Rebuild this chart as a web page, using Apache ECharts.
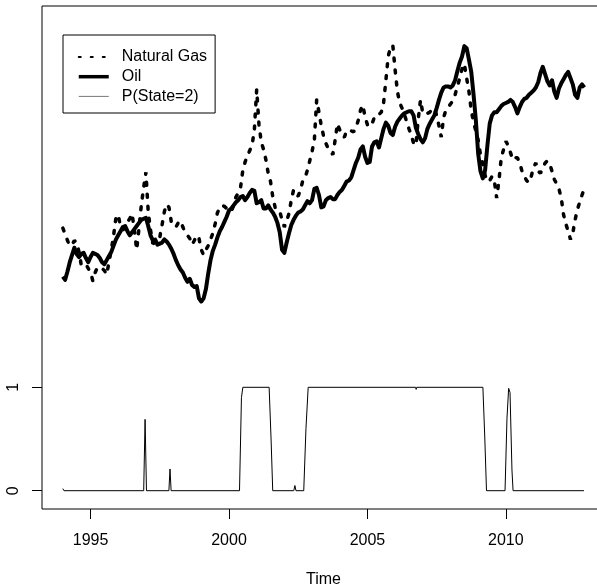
<!DOCTYPE html>
<html>
<head>
<meta charset="utf-8">
<script src="https://cdn.jsdelivr.net/npm/echarts@6/dist/echarts.min.js"></script>
<style>
  html, body { margin: 0; padding: 0; background: #fff; }
  #chart { width: 597px; height: 586px; }
</style>
</head>
<body>
<div id="chart"></div>
<script>
// monthly series, Jan 1994 .. Nov 2012 (plotted on the panel's own scale)
const startYear = 1994
const gas = [
  2.54, 2.48, 2.42, 2.37, 2.38, 2.42, 2.40, 2.31, 2.18, 2.19, 2.19, 2.15,
  2.11, 2.03, 2.11, 2.16, 2.16, 2.15, 2.13, 2.09, 2.21, 2.33, 2.47, 2.64,
  2.67, 2.55, 2.52, 2.55, 2.60, 2.63, 2.68, 2.52, 2.33, 2.54, 2.76, 2.93,
  3.08, 2.70, 2.52, 2.39, 2.40, 2.43, 2.45, 2.57, 2.70, 2.77, 2.74, 2.60,
  2.56, 2.55, 2.59, 2.61, 2.55, 2.50, 2.47, 2.44, 2.38, 2.42, 2.47, 2.44,
  2.33, 2.28, 2.33, 2.37, 2.43, 2.49, 2.58, 2.69, 2.73, 2.76, 2.75, 2.73,
  2.72, 2.70, 2.76, 2.84, 2.88, 2.93, 3.10, 3.18, 3.24, 3.29, 3.34, 3.49,
  3.88, 3.54, 3.37, 3.30, 3.20, 3.07, 2.99, 2.84, 2.74, 2.73, 2.70, 2.62,
  2.55, 2.61, 2.68, 2.81, 2.91, 2.86, 2.85, 2.91, 3.00, 3.03, 3.10, 3.19,
  3.28, 3.39, 3.78, 3.66, 3.53, 3.43, 3.36, 3.31, 3.28, 3.25, 3.39, 3.55,
  3.49, 3.43, 3.42, 3.48, 3.49, 3.48, 3.47, 3.51, 3.58, 3.68, 3.73, 3.61,
  3.54, 3.52, 3.55, 3.61, 3.64, 3.64, 3.66, 3.75, 3.97, 4.20, 4.29, 4.31,
  4.07, 3.86, 3.75, 3.70, 3.64, 3.57, 3.50, 3.44, 3.36, 3.34, 3.59, 3.78,
  3.65, 3.64, 3.65, 3.66, 3.69, 3.70, 3.63, 3.53, 3.42, 3.61, 3.68, 3.71,
  3.74, 3.77, 3.83, 3.91, 3.99, 4.08, 4.13, 3.99, 3.86, 3.68, 3.56, 3.48,
  3.39, 3.25, 3.16, 3.05, 2.99, 3.00, 3.04, 3.00, 2.83, 3.00, 3.22, 3.30,
  3.38, 3.34, 3.27, 3.20, 3.22, 3.22, 3.17, 3.09, 3.04, 3.00, 2.98, 3.04,
  3.13, 3.17, 3.09, 3.07, 3.12, 3.17, 3.19, 3.16, 3.09, 3.01, 2.97, 2.92,
  2.83, 2.67, 2.58, 2.51, 2.43, 2.49, 2.62, 2.72, 2.79, 2.86, 2.92
]
const oil = [
  2.07, 2.04, 2.12, 2.21, 2.28, 2.35, 2.29, 2.26, 2.29, 2.30, 2.25, 2.21,
  2.26, 2.30, 2.29, 2.28, 2.25, 2.21, 2.19, 2.23, 2.27, 2.31, 2.37, 2.43,
  2.47, 2.51, 2.55, 2.56, 2.51, 2.47, 2.50, 2.53, 2.56, 2.59, 2.62, 2.63,
  2.64, 2.56, 2.47, 2.42, 2.43, 2.38, 2.39, 2.40, 2.43, 2.41, 2.38, 2.34,
  2.29, 2.23, 2.18, 2.14, 2.11, 2.06, 2.02, 2.05, 1.99, 1.97, 1.98, 1.86,
  1.83, 1.86, 1.95, 2.10, 2.23, 2.32, 2.38, 2.45, 2.51, 2.55, 2.60, 2.65,
  2.71, 2.73, 2.76, 2.79, 2.81, 2.84, 2.85, 2.81, 2.84, 2.88, 2.91, 2.90,
  2.78, 2.79, 2.81, 2.73, 2.73, 2.76, 2.72, 2.69, 2.65, 2.59, 2.50, 2.33,
  2.30, 2.40, 2.49, 2.57, 2.62, 2.66, 2.69, 2.70, 2.72, 2.76, 2.80, 2.78,
  2.81, 2.92, 2.93, 2.86, 2.74, 2.75, 2.81, 2.83, 2.84, 2.82, 2.82, 2.86,
  2.89, 2.91, 2.95, 2.99, 3.00, 3.03, 3.10, 3.17, 3.22, 3.30, 3.33, 3.23,
  3.17, 3.18, 3.33, 3.37, 3.38, 3.32, 3.41, 3.50, 3.56, 3.53, 3.46, 3.44,
  3.52, 3.57, 3.60, 3.63, 3.65, 3.66, 3.67, 3.67, 3.63, 3.51, 3.45, 3.40,
  3.37, 3.41, 3.50, 3.55, 3.59, 3.63, 3.70, 3.78, 3.85, 3.90, 3.91, 3.91,
  3.90, 3.92, 3.97, 4.06, 4.14, 4.20, 4.30, 4.28, 4.17, 4.05, 3.83, 3.58,
  3.26, 3.09, 3.02, 3.10, 3.34, 3.55, 3.63, 3.66, 3.66, 3.69, 3.72, 3.74,
  3.75, 3.76, 3.78, 3.76, 3.71, 3.65, 3.71, 3.76, 3.79, 3.80, 3.83, 3.85,
  3.87, 3.90, 3.95, 4.04, 4.10, 4.03, 3.96, 3.92, 3.97, 3.86, 3.80, 3.89,
  3.94, 3.98, 4.02, 4.05, 3.99, 3.93, 3.83, 3.80, 3.90, 3.93, 3.90
]
// filtered probability of state 2, read at its turning points
const stateTimes = [
  1994.0, 1994.04, 1996.92, 1996.97, 1997.02, 1997.83, 1997.87, 1997.91,
  2000.38, 2000.45, 2000.50, 2001.45, 2001.52, 2001.58, 2002.34, 2002.38,
  2002.42, 2002.70, 2002.78, 2002.86, 2006.74, 2006.76, 2006.78, 2009.17,
  2009.24, 2009.30, 2009.97, 2010.04, 2010.10, 2010.15, 2010.22, 2010.26,
  2012.82
]
const stateValues = [
  0.02, 0, 0, 0.69, 0, 0, 0.21, 0,
  0, 0.9, 1, 1, 0.5, 0, 0, 0.05,
  0, 0, 0.6, 1, 1, 0.98, 1, 1,
  0.5, 0, 0, 0.7, 0.99, 0.95, 0.2, 0,
  0
]
const xTicks = [1995, 2000, 2005, 2010]
const yTicks = [0, 1]

const toPairs = arr => arr.map((v, i) => [startYear + i / 12, v])

const font = 'Liberation Sans, Arial, Helvetica, sans-serif'
const noMarker = { color: 'transparent', borderColor: 'transparent', borderWidth: 0, opacity: 0 }
const chart = echarts.init(document.getElementById('chart'))

chart.setOption({
  animation: false,
  backgroundColor: '#fff',
  textStyle: { fontFamily: font, color: '#000' },
  grid: {
    left: 42,
    top: 6,
    right: -8,
    bottom: 77,
    outerBoundsMode: 'none',
    show: true,
    borderColor: '#000',
    borderWidth: 1
  },
  legend: {
    left: 63,
    top: 35,
    orient: 'vertical',
    borderColor: '#000',
    borderWidth: 1,
    padding: [14, 8, 8.6, 14],
    itemWidth: 30,
    itemHeight: 14,
    itemGap: 3.7,
    textStyle: { fontSize: 16, color: '#000', fontFamily: font, padding: [0, 0, 0, 8] },
    data: [
      { name: 'Natural Gas', itemStyle: noMarker, lineStyle: { type: [2, 10], width: 2, cap: 'round', color: '#000' } },
      { name: 'Oil', itemStyle: noMarker, lineStyle: { width: 3.5, color: '#000' } },
      { name: 'P(State=2)', itemStyle: noMarker, lineStyle: { width: 1, color: '#777' } }
    ]
  },
  xAxis: {
    type: 'value',
    min: 1993.247,
    max: 2013.58,
    name: 'Time',
    nameLocation: 'middle',
    nameGap: 63,
    nameTextStyle: { fontSize: 16, color: '#000', fontFamily: font },
    axisLine: { show: false, onZero: false },
    axisTick: { show: true, length: 10, lineStyle: { color: '#000' }, customValues: xTicks },
    axisLabel: { fontSize: 16, color: '#000', margin: 24, customValues: xTicks, formatter: v => String(v) },
    splitLine: { show: false }
  },
  yAxis: {
    type: 'value',
    min: -0.177,
    max: 4.688,
    axisLine: { show: false, onZero: false },
    axisTick: { show: true, length: 10, lineStyle: { color: '#000' }, customValues: yTicks },
    axisLabel: { fontSize: 16, color: '#000', margin: 20, rotate: 90, customValues: yTicks },
    splitLine: { show: false }
  },
  series: [
    {
      name: 'Natural Gas',
      type: 'line',
      symbol: 'none',
      data: toPairs(gas),
      lineStyle: { color: '#000', width: 3.5, type: [3, 9], cap: 'round' }
    },
    {
      name: 'Oil',
      type: 'line',
      symbol: 'none',
      data: toPairs(oil),
      lineStyle: { color: '#000', width: 4, join: 'round' }
    },
    {
      name: 'P(State=2)',
      type: 'line',
      symbol: 'none',
      data: stateTimes.map((t, i) => [t, stateValues[i]]),
      lineStyle: { color: '#000', width: 1 }
    }
  ]
})
</script>
</body>
</html>
